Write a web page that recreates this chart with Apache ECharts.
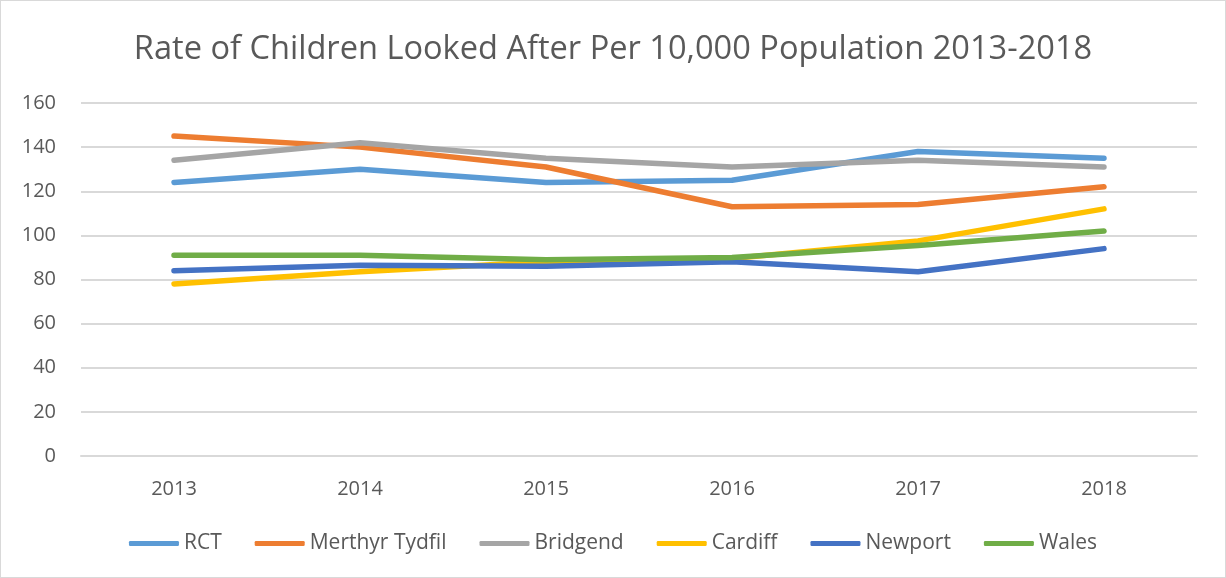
<!DOCTYPE html>
<html>
<head>
<meta charset="utf-8">
<script src="https://cdn.jsdelivr.net/npm/echarts@6/dist/echarts.min.js"></script>
<style>
  html, body { margin: 0; padding: 0; background: #fff; }
  #chart { width: 1226px; height: 578px; box-sizing: border-box; border: 1px solid #d9d9d9; }
</style>
</head>
<body>
<div id="chart"></div>
<script>
var years = ['2013', '2014', '2015', '2016', '2017', '2018']
var rct = [124, 130, 124, 125, 138, 135]
var merthyr = [145, 140, 131, 113, 114, 122]
var bridgend = [134, 142, 135, 131, 134, 131]
var cardiff = [78, 83.5, 88, 89.5, 97.5, 112]
var newport = [84, 86.5, 86, 88, 83.5, 94]
var wales = [91, 91, 89, 90, 95.4, 102]

var chart = echarts.init(document.getElementById('chart'))

function line(name, data, color) {
  return {
    name: name,
    type: 'line',
    data: data,
    symbol: 'none',
    color: color,
    lineStyle: { width: 5.5, color: color, cap: 'round', join: 'round' }
  }
}

chart.setOption({
  animation: false,
  title: {
    text: 'Rate of Children Looked After Per 10,000 Population 2013-2018',
    left: 'center',
    top: 27,
    textStyle: {
      color: '#595959',
      fontFamily: 'Open Sans',
      fontWeight: 'normal',
      fontSize: 32.6
    }
  },
  grid: {
    left: 80,
    right: 28,
    top: 102,
    bottom: 121
  },
  legend: {
    bottom: 18,
    left: 'center',
    icon: 'roundRect',
    itemWidth: 50,
    itemHeight: 5,
    itemGap: 33,
    textStyle: { color: '#595959', fontSize: 21, fontFamily: 'Open Sans' },
    data: ['RCT', 'Merthyr Tydfil', 'Bridgend', 'Cardiff', 'Newport', 'Wales']
  },
  xAxis: {
    type: 'category',
    data: years,
    boundaryGap: true,
    axisTick: { show: false },
    axisLine: { lineStyle: { color: '#d9d9d9', width: 2 } },
    axisLabel: { color: '#595959', fontSize: 20, fontFamily: 'Open Sans', margin: 23 }
  },
  yAxis: {
    type: 'value',
    min: 0,
    max: 160,
    interval: 20,
    axisLine: { show: false },
    axisTick: { show: false },
    splitLine: { lineStyle: { color: '#d9d9d9', width: 2 } },
    axisLabel: { color: '#595959', fontSize: 20, fontFamily: 'Open Sans', margin: 25 }
  },
  series: [
    line('RCT', rct, '#5B9BD5'),
    line('Merthyr Tydfil', merthyr, '#ED7D31'),
    line('Bridgend', bridgend, '#A5A5A5'),
    line('Cardiff', cardiff, '#FFC000'),
    line('Newport', newport, '#4472C4'),
    line('Wales', wales, '#70AD47')
  ]
})
</script>
</body>
</html>
